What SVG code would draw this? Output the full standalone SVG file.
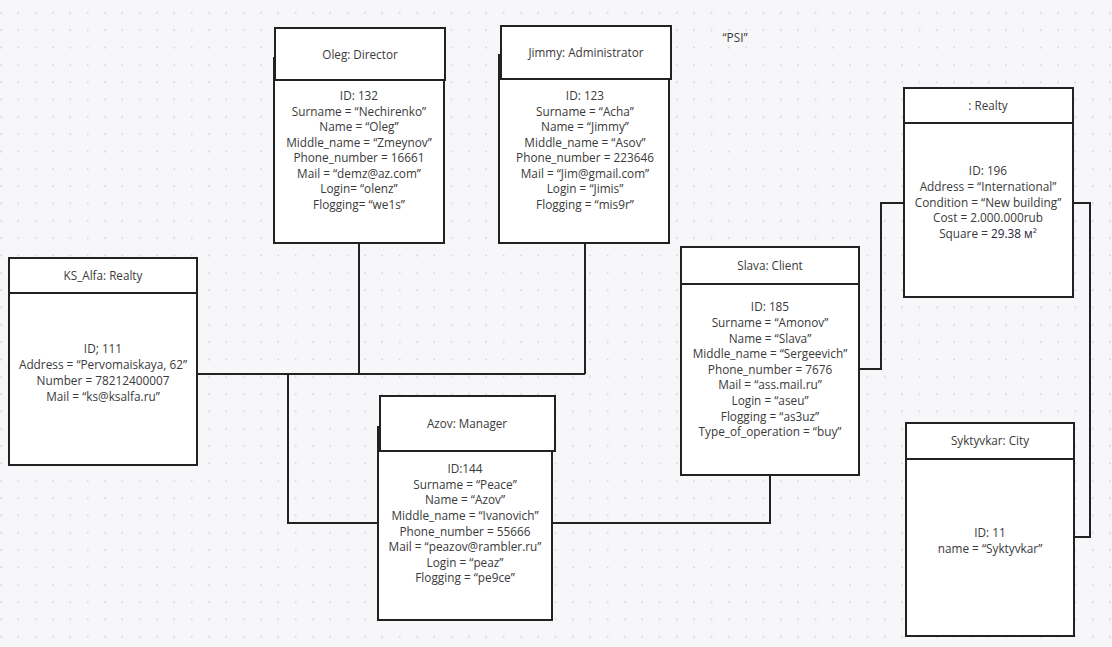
<svg xmlns="http://www.w3.org/2000/svg" width="1112" height="647" viewBox="0 0 1112 647">
<style>
.bg{fill:#f7f7f9}
.box{fill:#ffffff;stroke:#222;stroke-width:2}
.t{font-family:"Open Sans","Noto Sans",sans-serif;font-size:11.8px;fill:#3a3a3a;text-anchor:middle}
.h{font-family:"Open Sans","Noto Sans",sans-serif;font-size:11.7px;fill:#3a3a3a;text-anchor:middle}
.c{fill:none;stroke:#222;stroke-width:2}
</style>
<defs>
<pattern id="dots" x="0" y="0" width="17.33" height="17.33" patternUnits="userSpaceOnUse">
<circle cx="1" cy="12.9" r="1" fill="#d9d9de"/>
</pattern>
</defs>
<rect class="bg" x="0" y="0" width="1112" height="647"/>
<rect x="0" y="0" width="1112" height="647" fill="url(#dots)"/>
<text class="t" x="735" y="42">“PSI”</text>

<g id="connectors">
<polyline class="c" points="197,374 585,374"/>
<polyline class="c" points="359,243 359,374"/>
<polyline class="c" points="585,243 585,374"/>
<polyline class="c" points="288,374 288,523 378,523"/>
<polyline class="c" points="552,523 770,523 770,475"/>
<polyline class="c" points="859,369 881,369 881,203 904,203"/>
<polyline class="c" points="1073,203 1090,203 1090,537 1074,537"/>
</g>

<g id="oleg">
<rect class="box" x="274" y="58" width="170" height="185"/>
<rect class="box" x="275" y="28" width="170" height="52"/>
<text class="h" x="360" y="59">Oleg: Director</text>
<text class="t" x="359" y="100">ID: 132</text>
<text class="t" x="359" y="116">Surname = “Nechirenko”</text>
<text class="t" x="359" y="131">Name = “Oleg”</text>
<text class="t" x="359" y="147">Middle_name = “Zmeynov”</text>
<text class="t" x="359" y="162">Phone_number = 16661</text>
<text class="t" x="359" y="178">Mail = “demz@az.com”</text>
<text class="t" x="359" y="193">Login= “olenz”</text>
<text class="t" x="359" y="209">Flogging= “we1s”</text>
</g>

<g id="jimmy">
<rect class="box" x="499" y="55" width="170" height="188"/>
<rect class="box" x="501" y="26" width="170" height="53"/>
<text class="h" x="586" y="57">Jimmy: Administrator</text>
<text class="t" x="585" y="100">ID: 123</text>
<text class="t" x="585" y="116">Surname = “Acha”</text>
<text class="t" x="585" y="131">Name = “Jimmy”</text>
<text class="t" x="585" y="147">Middle_name = “Asov”</text>
<text class="t" x="585" y="162">Phone_number = 223646</text>
<text class="t" x="585" y="178">Mail = “Jim@gmail.com”</text>
<text class="t" x="585" y="193">Login = “Jimis”</text>
<text class="t" x="585" y="209">Flogging = “mis9r”</text>
</g>

<g id="ksalfa">
<rect class="box" x="9" y="258" width="188" height="207"/>
<line class="c" x1="9" y1="293" x2="197" y2="293"/>
<text class="h" x="103" y="280">KS_Alfa: Realty</text>
<text class="t" x="103" y="353">ID; 111</text>
<text class="t" x="103" y="369">Address = “Pervomaiskaya, 62”</text>
<text class="t" x="103" y="385">Number = 78212400007</text>
<text class="t" x="103" y="401">Mail = “ks@ksalfa.ru”</text>
</g>

<g id="azov">
<rect class="box" x="378" y="427" width="174" height="193"/>
<rect class="box" x="380" y="396" width="175" height="55"/>
<text class="h" x="467" y="428">Azov: Manager</text>
<text class="t" x="465" y="473">ID:144</text>
<text class="t" x="465" y="489">Surname = “Peace”</text>
<text class="t" x="465" y="504">Name = “Azov”</text>
<text class="t" x="465" y="520">Middle_name = “Ivanovich”</text>
<text class="t" x="465" y="536">Phone_number = 55666</text>
<text class="t" x="465" y="551">Mail = “peazov@rambler.ru”</text>
<text class="t" x="465" y="567">Login = “peaz”</text>
<text class="t" x="465" y="582">Flogging = “pe9ce”</text>
</g>

<g id="slava">
<rect class="box" x="681" y="247" width="178" height="228"/>
<line class="c" x1="681" y1="284" x2="859" y2="284"/>
<text class="h" x="770" y="270">Slava: Client</text>
<text class="t" x="770" y="311">ID: 185</text>
<text class="t" x="770" y="327">Surname = “Amonov”</text>
<text class="t" x="770" y="343">Name = “Slava”</text>
<text class="t" x="770" y="358">Middle_name = “Sergeevich”</text>
<text class="t" x="770" y="374">Phone_number = 7676</text>
<text class="t" x="770" y="389">Mail = “ass.mail.ru”</text>
<text class="t" x="770" y="405">Login = “aseu”</text>
<text class="t" x="770" y="421">Flogging = “as3uz”</text>
<text class="t" x="770" y="436">Type_of_operation = “buy”</text>
</g>

<g id="realty">
<rect class="box" x="904" y="88" width="169" height="209"/>
<line class="c" x1="904" y1="123" x2="1073" y2="123"/>
<text class="h" x="988" y="110">: Realty</text>
<text class="t" x="988" y="175">ID: 196</text>
<text class="t" x="988" y="191">Address = “International”</text>
<text class="t" x="988" y="207">Condition = “New building”</text>
<text class="t" x="988" y="222">Cost = 2.000.000rub</text>
<text class="t" x="988" y="238">Square = <tspan fill="#1f2340">29.38 м²</tspan></text>
</g>

<g id="syktyvkar">
<rect class="box" x="906" y="423" width="168" height="213"/>
<line class="c" x1="906" y1="459" x2="1074" y2="459"/>
<text class="h" x="990" y="445">Syktyvkar: City</text>
<text class="t" x="990" y="537">ID: 11</text>
<text class="t" x="990" y="553">name = “Syktyvkar”</text>
</g>
</svg>
